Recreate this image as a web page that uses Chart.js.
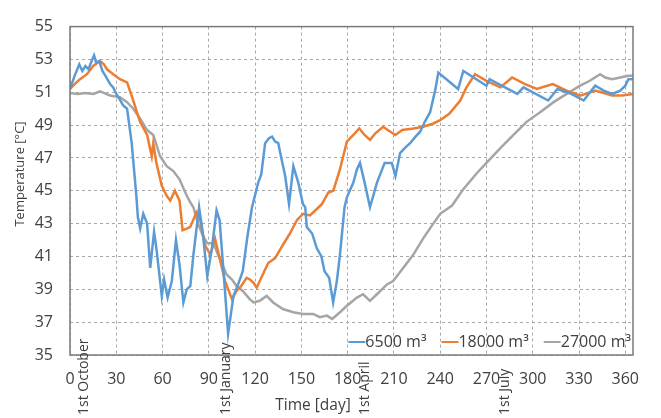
<!DOCTYPE html>
<html>
<head>
<meta charset="utf-8">
<script src="https://cdn.jsdelivr.net/npm/chart.js@4"></script>
<style>
  html, body { margin: 0; padding: 0; background: #fff; }
  canvas { display: block; }
</style>
</head>
<body>
<canvas id="tempChart" width="661" height="418"></canvas>
<script>
// Axis ticks
const xTicks = [0, 30, 60, 90, 120, 150, 180, 210, 240, 270, 300, 330, 360];
const monthDays = [0, 92, 182, 273];
const monthLabels = ["1st October", "1st January", "1st April", "1st July"];
const seriesLabels = ["6500 m³", "18000 m³", "27000 m³"];

// 6500 m3 store
const days6500 = [0, 3, 6, 8, 10, 12, 14, 15.6, 17, 19, 21, 23, 26, 28, 30, 32, 34.5, 37, 40, 43,
  44, 45.5, 47.5, 50, 52, 54.5, 56, 59.5, 61, 63.3, 66, 68.7, 71, 73.5, 75.7, 78, 80, 83.7, 86, 89,
  92, 95, 97, 100, 102.5, 106, 109, 112, 115, 118, 122, 124, 126.5, 129, 131, 133, 135, 137, 139.5, 142,
  144.8, 148, 151, 152.5, 153.5, 157, 160, 163, 165, 168, 170.6, 173, 175, 178, 179.5, 183.7, 186, 188, 191, 194.5,
  199, 204, 208.6, 211, 214, 217, 220.5, 224, 227, 230, 233.5, 236.7, 238.8, 251.6, 255, 270, 272, 290, 294, 310,
  316, 325, 333, 340.5, 346, 351.5, 356.7, 360, 362, 365];
const temp6500 = [51.2, 52.0, 52.7, 52.3, 52.6, 52.4, 52.9, 53.25, 52.8, 52.9, 52.3, 52.0, 51.5, 51.3, 50.9, 50.6, 50.2, 50.0, 47.9, 44.7,
  43.4, 42.7, 43.6, 43.0, 40.3, 42.5, 41.5, 38.6, 39.6, 38.5, 39.5, 42.0, 40.5, 38.2, 39.0, 39.2, 41.1, 44.0, 42.5, 39.8,
  41.5, 43.8, 43.2, 39.5, 36.3, 38.6, 39.3, 40.1, 42.2, 44.0, 45.5, 46.0, 47.9, 48.2, 48.3, 48.0, 47.9, 47.0, 45.9, 44.2,
  46.5, 45.5, 44.2, 44.0, 42.8, 42.4, 41.5, 41.0, 40.1, 39.7, 38.2, 39.5, 41.1, 44.0, 44.6, 45.5, 46.3, 46.7, 45.5, 44.0,
  45.5, 46.7, 46.7, 45.9, 47.3, 47.6, 47.9, 48.3, 48.6, 49.2, 49.8, 51.1, 52.2, 51.2, 52.3, 51.4, 51.8, 50.9, 51.3, 50.5,
  51.2, 50.9, 50.5, 51.4, 51.1, 50.9, 51.1, 51.4, 51.8, 51.8];

// 18000 m3 store
const days18000 = [0, 3, 6.5, 11, 15, 19.5, 22, 24, 28, 32.4, 37, 41, 45.4, 50, 53, 54, 56, 59.5, 62.7, 65,
  68, 71, 73, 75.7, 78, 82, 84, 87.5, 91, 94, 96, 100.5, 105, 108, 111, 114.5, 116.7, 119, 121, 125,
  128.5, 133, 138, 142.6, 147, 151, 155.6, 159, 163.4, 167.5, 170.7, 175, 179.5, 183.7, 187.5, 191, 194.5, 198, 203, 206,
  211, 215.4, 222.7, 229, 235.6, 240, 246, 253, 257, 262.6, 270, 279, 286.6, 295, 302.7, 313, 322, 330.7, 340.5, 351.5,
  358, 365];
const temp18000 = [51.2, 51.5, 51.8, 52.1, 52.6, 52.9, 52.7, 52.4, 52.1, 51.8, 51.6, 50.5, 49.2, 48.4, 47.1, 47.9, 46.7, 45.3, 44.7, 44.4,
  45.0, 44.4, 42.6, 42.7, 42.8, 43.7, 43.4, 41.7, 41.1, 42.1, 41.3, 39.5, 38.4, 38.9, 39.2, 39.7, 39.6, 39.4, 39.1, 39.9,
  40.6, 40.9, 41.7, 42.4, 43.2, 43.6, 43.5, 43.8, 44.2, 44.9, 45.0, 46.3, 48.0, 48.4, 48.8, 48.4, 48.1, 48.5, 48.9, 48.7,
  48.4, 48.7, 48.8, 48.9, 49.1, 49.3, 49.7, 50.5, 51.3, 52.1, 51.7, 51.3, 51.9, 51.5, 51.2, 51.5, 51.1, 50.8, 51.1, 50.8,
  50.8, 50.9];

// 27000 m3 store
const days27000 = [0, 5, 10, 15, 19.5, 26, 32.4, 37, 41, 45.4, 50, 54, 58.4, 62.7, 67, 71, 75.7, 78, 80, 83,
  86, 89, 93, 96, 101.5, 105, 108, 112, 116.5, 119, 123, 127.5, 131.7, 138, 144.8, 151, 157.6, 162, 166.5, 170,
  175, 179.5, 186, 190, 194.5, 199, 205.5, 209.5, 216, 222.5, 229, 235.5, 240, 247.7, 255, 264, 270, 279, 287.5, 296,
  305, 313.5, 322, 330.7, 337, 343.7, 347, 351.5, 356.7, 362, 365];
const temp27000 = [50.95, 50.9, 50.95, 50.9, 51.05, 50.8, 50.7, 50.4, 50.0, 49.4, 48.7, 48.4, 47.1, 46.5, 46.2, 45.7, 44.7, 44.3, 44.0, 43.0,
  42.3, 41.8, 41.8, 41.1, 39.9, 39.6, 39.2, 38.9, 38.4, 38.2, 38.3, 38.6, 38.2, 37.8, 37.6, 37.5, 37.5, 37.3, 37.4, 37.2,
  37.6, 38.0, 38.5, 38.7, 38.3, 38.7, 39.3, 39.5, 40.3, 41.1, 42.1, 43.0, 43.6, 44.1, 45.1, 46.1, 46.7, 47.6, 48.4, 49.2,
  49.8, 50.4, 50.9, 51.4, 51.7, 52.1, 51.9, 51.8, 51.9, 52.0, 52.0];

const FONT = '"Open Sans", "Noto Sans", sans-serif';
const TEXT = "#404040";
const colors = ["#5B9BD5", "#ED7D31", "#A5A5A5"];

function toPoints(xs, ys) {
  return xs.map((d, i) => ({ x: d, y: ys[i] }));
}

// frame, month labels, axis titles and the legend inside the plot
const overlayPlugin = {
  id: "overlay",
  afterDraw(chart) {
    const { ctx, chartArea: a, scales } = chart;
    const x = scales.x;
    ctx.save();

    ctx.strokeStyle = "#7a7a7a";
    ctx.lineWidth = 1.5;
    ctx.strokeRect(a.left, a.top, a.right - a.left, a.bottom - a.top);

    ctx.fillStyle = TEXT;
    ctx.font = "14px " + FONT;
    ctx.textAlign = "left";
    ctx.textBaseline = "middle";
    monthDays.forEach((d, i) => {
      ctx.save();
      ctx.translate(x.getPixelForValue(d) + 14, 415);
      ctx.rotate(-Math.PI / 2);
      ctx.fillText(monthLabels[i], 0, 0);
      ctx.restore();
    });

    // axis titles
    ctx.font = "15.5px " + FONT;
    ctx.textAlign = "center";
    ctx.fillText("Time [day]", 313, 406);
    ctx.font = "13px " + FONT;
    ctx.save();
    ctx.translate(20, 174);
    ctx.rotate(-Math.PI / 2);
    ctx.fillText("Temperature [°C]", 0, 0);
    ctx.restore();

    // legend
    ctx.font = "16px " + FONT;
    ctx.textAlign = "left";
    const lineLen = 17, gap = 15;
    const widths = seriesLabels.map((s) => ctx.measureText(s).width);
    let total = widths.reduce((s, w) => s + w + lineLen, 0) + gap * (seriesLabels.length - 1);
    let lx = a.right - 2 - total;
    const ly = 342;
    seriesLabels.forEach((s, i) => {
      ctx.strokeStyle = colors[i];
      ctx.lineWidth = 2;
      ctx.beginPath();
      ctx.moveTo(lx, ly);
      ctx.lineTo(lx + lineLen, ly);
      ctx.stroke();
      ctx.fillText(s, lx + lineLen, ly);
      lx += lineLen + widths[i] + gap;
    });
    ctx.restore();
  },
};

const ctx = document.getElementById("tempChart").getContext("2d");
new Chart(ctx, {
  type: "line",
  data: {
    datasets: [
      { label: seriesLabels[0], data: toPoints(days6500, temp6500), borderColor: colors[0] },
      { label: seriesLabels[1], data: toPoints(days18000, temp18000), borderColor: colors[1] },
      { label: seriesLabels[2], data: toPoints(days27000, temp27000), borderColor: colors[2] },
    ],
  },
  options: {
    responsive: false,
    animation: false,
    devicePixelRatio: 1,
    layout: { padding: { left: 0, right: 28, top: 10, bottom: 0 } },
    elements: {
      point: { radius: 0 },
      line: { borderWidth: 2.5, tension: 0, fill: false },
    },
    plugins: { legend: { display: false }, tooltip: { enabled: false } },
    scales: {
      x: {
        type: "linear",
        min: 0,
        max: 365,
        afterBuildTicks: (scale) => {
          scale.ticks = xTicks.map((v) => ({ value: v }));
        },
        afterFit: (scale) => {
          scale.height = 63;
        },
        ticks: { autoSkip: false, maxRotation: 0, padding: 15, color: TEXT, font: { family: FONT, size: 16 } },
        grid: { color: "#a8a8a8", lineWidth: 1, drawTicks: false },
        border: { display: false, dash: [3, 3] },
      },
      y: {
        min: 35,
        max: 55,
        afterFit: (scale) => {
          scale.width = 70;
        },
        ticks: { stepSize: 2, padding: 17, color: TEXT, font: { family: FONT, size: 16 } },
        grid: { color: "#a8a8a8", lineWidth: 1, drawTicks: false },
        border: { display: false, dash: [3, 3] },
      },
    },
  },
  plugins: [overlayPlugin],
});
</script>
</body>
</html>
